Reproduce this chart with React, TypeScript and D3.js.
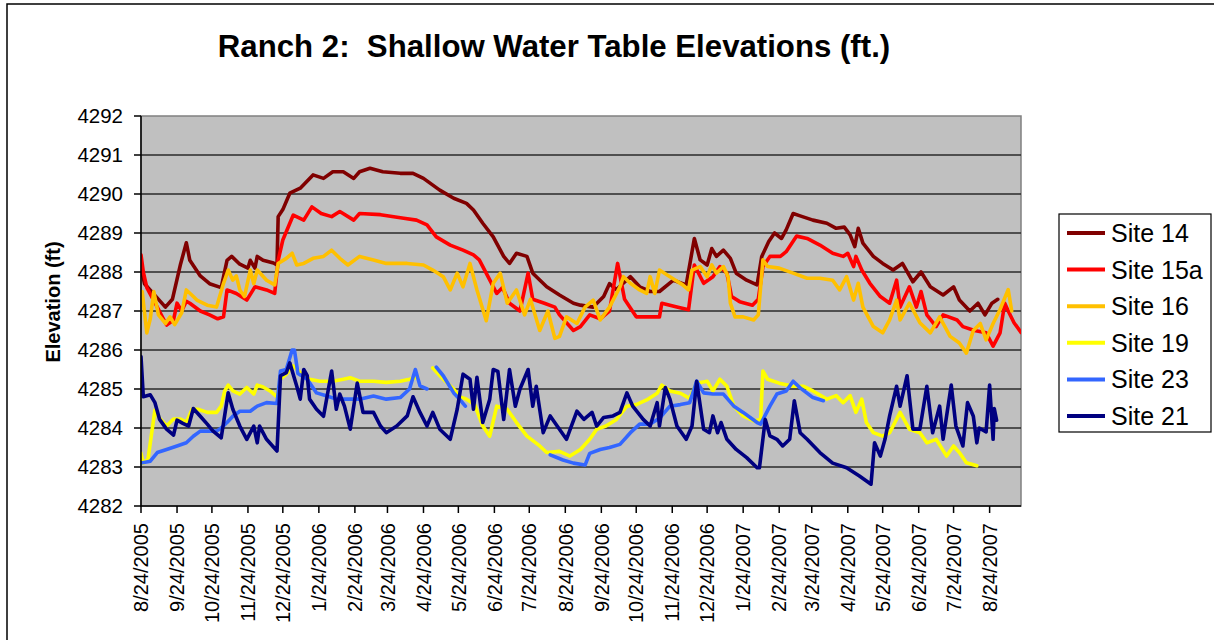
import React from 'react';
import * as d3 from 'd3';

type Pt = [number, number | null];

const W = 1214;
const H = 640;
const PL = 141, PR = 1021, PT = 116, PB = 506;
const FONT = 'Liberation Sans, Arial, Helvetica, sans-serif';

const START = new Date(2005, 7, 24);
const END_DAY = 757;

const titleText = 'Ranch 2:  Shallow Water Table Elevations (ft.)';
const yTitle = 'Elevation (ft)';
const yTicks = [4282, 4283, 4284, 4285, 4286, 4287, 4288, 4289, 4290, 4291, 4292];
const xTickMonths = d3.range(25); // monthly on the 24th from 8/24/2005

const seriesNames = ['Site 14', 'Site 15a', 'Site 16', 'Site 19', 'Site 23', 'Site 21'];
const seriesColors = ['#800000', '#FF0000', '#FFC000', '#FFFF00', '#3366FF', '#000080'];

// [days since 8/24/2005, elevation]
const site14: Pt[] = [[0,4288.1],[3,4287.7],[12,4287.4],[21,4287.1],[27,4287.3],[34,4288.2],[39,4288.75],[42,4288.3],[51,4287.9],[59,4287.7],[69,4287.6],[74,4288.3],[78,4288.4],[85,4288.2],[92,4288.1],[94,4288.3],[98,4288.1],[100,4288.4],[105,4288.3],[114,4288.23],[117,4288.18],[118,4289.42],[122,4289.6],[128,4290.02],[137,4290.15],[148,4290.49],[157,4290.4],[165,4290.57],[174,4290.57],[183,4290.4],[188,4290.57],[197,4290.66],[208,4290.57],[223,4290.53],[234,4290.53],[243,4290.4],[257,4290.1],[269,4289.89],[280,4289.76],[286,4289.59],[294,4289.25],[303,4288.9],[312,4288.4],[317,4288.22],[323,4288.48],[332,4288.4],[337,4287.97],[349,4287.62],[360,4287.41],[372,4287.2],[378,4287.15],[389,4287.1],[398,4287.37],[403,4287.7],[409,4287.55],[421,4287.88],[429,4287.62],[438,4287.5],[446,4287.5],[458,4287.79],[469,4287.67],[476,4288.86],[481,4288.31],[487,4288.18],[491,4288.6],[495,4288.4],[501,4288.56],[507,4288.35],[512,4287.97],[521,4287.79],[530,4287.67],[534,4288.4],[540,4288.78],[545,4289.0],[551,4288.86],[555,4289.08],[561,4289.5],[567,4289.44],[578,4289.33],[590,4289.25],[598,4289.12],[605,4289.15],[610,4288.95],[614,4288.65],[617,4289.12],[621,4288.74],[630,4288.4],[638,4288.22],[647,4288.05],[655,4288.22],[664,4287.75],[671,4288.0],[679,4287.62],[690,4287.41],[699,4287.62],[704,4287.28],[713,4287.0],[720,4287.2],[726,4286.9],[732,4287.2],[737,4287.3]];

const site15a: Pt[] = [[0,4288.44],[2,4288.0],[5,4287.6],[14,4287.1],[22,4286.64],[28,4286.77],[31,4287.2],[35,4287.0],[39,4287.25],[42,4287.2],[51,4287.0],[59,4286.9],[66,4286.8],[71,4286.85],[74,4287.54],[82,4287.45],[91,4287.28],[98,4287.62],[108,4287.54],[115,4287.45],[118,4288.3],[122,4288.82],[131,4289.46],[140,4289.33],[147,4289.67],[155,4289.5],[164,4289.42],[171,4289.55],[183,4289.33],[188,4289.5],[206,4289.47],[226,4289.38],[237,4289.33],[246,4289.21],[254,4288.9],[266,4288.69],[277,4288.56],[286,4288.44],[291,4288.31],[300,4287.8],[306,4287.45],[311,4287.6],[317,4287.2],[326,4287.0],[333,4287.97],[337,4287.3],[347,4287.2],[356,4287.1],[360,4286.9],[372,4286.5],[378,4286.6],[386,4286.9],[395,4286.8],[403,4287.0],[410,4288.22],[416,4287.3],[426,4286.85],[438,4286.85],[446,4286.85],[448,4287.2],[461,4287.1],[471,4287.03],[476,4288.18],[484,4287.71],[492,4287.88],[498,4288.14],[504,4287.97],[508,4287.37],[515,4287.24],[526,4287.15],[531,4287.3],[535,4288.14],[541,4288.4],[550,4288.4],[555,4288.52],[564,4288.92],[573,4288.86],[584,4288.69],[595,4288.48],[604,4288.4],[608,4288.48],[613,4288.14],[615,4288.4],[620,4288.05],[627,4287.71],[636,4287.37],[644,4287.2],[650,4287.79],[653,4287.1],[661,4287.62],[667,4287.1],[671,4287.5],[676,4286.9],[684,4286.6],[690,4286.9],[702,4286.77],[707,4286.6],[717,4286.5],[727,4286.44],[733,4286.1],[739,4286.44],[743,4287.2],[746,4287.0],[751,4286.7],[757,4286.45]];

const site16: Pt[] = [[1,4287.5],[5,4286.44],[8,4286.8],[11,4287.5],[15,4286.9],[21,4286.68],[25,4286.85],[29,4286.65],[35,4286.95],[39,4287.54],[45,4287.37],[48,4287.28],[57,4287.15],[65,4287.1],[71,4287.71],[75,4288.05],[79,4287.79],[82,4287.9],[85,4287.54],[89,4287.37],[94,4288.05],[97,4287.7],[100,4288.05],[108,4287.79],[115,4287.67],[118,4288.22],[125,4288.35],[130,4288.48],[134,4288.18],[140,4288.22],[148,4288.35],[157,4288.4],[164,4288.56],[171,4288.35],[178,4288.18],[188,4288.4],[200,4288.31],[211,4288.22],[229,4288.22],[243,4288.18],[251,4288.05],[260,4287.88],[266,4287.54],[272,4287.97],[277,4287.62],[283,4288.22],[289,4287.54],[297,4286.75],[303,4287.71],[309,4287.97],[315,4287.2],[323,4287.54],[330,4286.9],[335,4287.3],[343,4286.5],[350,4287.0],[356,4286.3],[360,4286.35],[366,4286.85],[375,4286.68],[382,4287.1],[389,4287.28],[395,4286.77],[403,4287.1],[412,4287.62],[415,4287.88],[421,4287.71],[429,4287.54],[435,4287.45],[438,4287.88],[442,4287.45],[446,4288.05],[455,4287.88],[466,4287.67],[471,4287.54],[474,4288.05],[481,4288.14],[487,4287.88],[491,4288.18],[495,4287.97],[501,4288.14],[505,4287.88],[507,4287.2],[511,4286.85],[518,4286.85],[527,4286.77],[531,4286.9],[535,4288.31],[539,4288.14],[549,4288.1],[561,4287.97],[573,4287.84],[584,4287.84],[595,4287.79],[601,4287.54],[607,4287.88],[613,4287.28],[617,4287.71],[621,4287.1],[630,4286.6],[638,4286.44],[644,4286.77],[650,4287.28],[653,4286.77],[661,4287.2],[670,4286.7],[679,4286.44],[687,4286.85],[696,4286.35],[704,4286.18],[710,4285.92],[716,4286.5],[722,4286.68],[727,4286.26],[733,4286.68],[739,4287.04],[746,4287.55],[749,4287.0]];

const site19: Pt[] = [[0,4283.35],[2,4283.1],[6,4283.2],[12,4284.46],[16,4284.25],[22,4284.05],[28,4284.23],[34,4284.23],[39,4284.15],[44,4284.48],[49,4284.48],[57,4284.4],[65,4284.4],[69,4284.56],[72,4284.95],[75,4285.1],[79,4284.95],[85,4284.87],[91,4285.04],[97,4284.87],[100,4285.1],[105,4285.05],[111,4284.95],[117,4284.8],[120,4285.25],[125,4285.38],[131,4285.59],[137,4285.42],[145,4285.25],[154,4285.2],[165,4285.2],[174,4285.25],[180,4285.29],[188,4285.2],[200,4285.2],[211,4285.17],[223,4285.2],[231,4285.25],[238,4285.3],[244,null],[251,4285.54],[260,4285.25],[269,4285.0],[274,4284.8],[280,4284.74],[287,4284.6],[294,4284.05],[300,4283.79],[306,4284.56],[315,4284.48],[323,4284.14],[332,4283.79],[343,4283.54],[349,4283.37],[360,4283.4],[369,4283.28],[378,4283.45],[386,4283.71],[392,4283.97],[400,4284.05],[409,4284.22],[418,4284.56],[426,4284.6],[435,4284.72],[444,4284.89],[448,4285.1],[455,4284.95],[464,4284.89],[472,4284.76],[478,4285.15],[487,4285.2],[492,4284.95],[498,4285.25],[504,4285.07],[510,4284.56],[518,4284.31],[527,4284.18],[533,4284.22],[535,4285.46],[539,4285.25],[549,4285.15],[561,4285.07],[570,4285.07],[578,4284.95],[590,4284.74],[598,4284.83],[604,4284.65],[610,4284.83],[615,4284.4],[620,4284.74],[624,4284.14],[630,4283.88],[638,4283.79],[644,4283.88],[653,4284.4],[661,4283.97],[670,4283.88],[676,4283.62],[684,4283.71],[693,4283.28],[699,4283.54],[704,4283.37],[710,4283.11],[719,4283.03]];

const site23: Pt[] = [[0,4283.1],[8,4283.15],[14,4283.37],[22,4283.45],[31,4283.54],[39,4283.62],[45,4283.79],[51,4283.92],[65,4283.92],[69,4284.0],[74,4284.14],[79,4284.3],[85,4284.43],[94,4284.43],[100,4284.56],[108,4284.65],[117,4284.63],[120,4285.46],[125,4285.5],[130,4286.0],[132,4286.0],[135,4285.4],[143,4285.25],[151,4284.9],[160,4284.82],[168,4284.74],[188,4284.74],[200,4284.82],[211,4284.74],[223,4284.78],[231,4285.0],[236,4285.5],[240,4285.08],[246,4285.0],[250,null],[254,4285.56],[260,4285.34],[269,4284.9],[274,4284.74],[279,4284.56],[300,null],[352,4283.31],[363,4283.18],[372,4283.1],[382,4283.05],[386,4283.35],[395,4283.45],[403,4283.5],[412,4283.58],[421,4283.88],[429,4284.1],[438,4284.1],[446,4284.25],[455,4284.56],[464,4284.6],[472,4284.65],[478,4285.2],[484,4284.9],[492,4284.87],[501,4284.87],[510,4284.56],[518,4284.4],[530,4284.14],[533,4284.1],[541,4284.56],[547,4284.87],[555,4284.95],[561,4285.2],[567,4285.03],[578,4284.78],[587,4284.7]];

const site21: Pt[] = [[0,4285.83],[2,4284.8],[8,4284.85],[12,4284.65],[16,4284.22],[22,4283.97],[28,4283.82],[31,4284.2],[36,4284.12],[41,4284.05],[45,4284.5],[51,4284.3],[57,4284.1],[62,4283.92],[69,4283.75],[75,4284.9],[79,4284.48],[85,4284.05],[91,4283.71],[97,4284.05],[100,4283.62],[102,4284.05],[108,4283.71],[117,4283.41],[120,4285.34],[125,4285.42],[128,4285.67],[134,4285.07],[137,4284.74],[140,4285.5],[143,4285.34],[145,4284.74],[151,4284.48],[157,4284.3],[164,4285.46],[168,4284.48],[171,4284.87],[175,4284.56],[180,4283.97],[186,4285.15],[191,4284.4],[200,4284.4],[206,4284.05],[211,4283.88],[220,4284.05],[229,4284.31],[234,4284.8],[240,4284.4],[246,4284.05],[251,4284.4],[257,4283.97],[266,4283.71],[272,4284.48],[277,4285.38],[283,4285.25],[286,4284.48],[289,4285.3],[294,4284.14],[300,4284.74],[303,4285.5],[307,4285.45],[312,4284.22],[317,4285.5],[322,4284.56],[326,4285.0],[333,4285.5],[337,4284.56],[340,4285.07],[346,4283.88],[352,4284.31],[358,4284.05],[366,4283.71],[375,4284.43],[381,4284.22],[388,4284.4],[392,4284.05],[398,4284.27],[406,4284.31],[412,4284.4],[418,4284.9],[423,4284.56],[432,4284.22],[438,4284.05],[444,4284.65],[446,4284.05],[451,4285.04],[455,4284.74],[461,4284.05],[469,4283.71],[474,4284.05],[478,4285.2],[484,4283.97],[489,4283.88],[492,4284.31],[496,4283.88],[499,4284.14],[504,4283.71],[512,4283.45],[521,4283.24],[530,4282.98],[532,4282.98],[537,4284.22],[541,4283.8],[547,4283.71],[552,4283.54],[558,4283.71],[562,4284.7],[567,4283.88],[573,4283.71],[584,4283.37],[595,4283.1],[607,4282.98],[618,4282.77],[628,4282.56],[631,4283.62],[636,4283.28],[640,4283.71],[644,4284.31],[650,4285.07],[653,4284.56],[659,4285.34],[664,4283.97],[670,4283.97],[676,4285.07],[681,4283.88],[687,4284.56],[690,4283.71],[697,4285.1],[701,4284.05],[707,4283.54],[711,4284.65],[716,4284.3],[719,4283.62],[721,4284.0],[727,4283.9],[730,4285.1],[733,4283.71],[734,4284.5],[736,4284.2]];

const seriesData: Pt[][] = [site14, site15a, site16, site19, site23, site21];

export default function App() {
  const x = d3
    .scaleTime()
    .domain([START, d3.timeDay.offset(START, END_DAY)])
    .range([PL, PR]);
  const y = d3.scaleLinear().domain([4282, 4292]).range([PB, PT]);

  const line = d3
    .line<Pt>()
    .defined((d) => d[1] !== null)
    .x((d) => x(d3.timeDay.offset(START, d[0])))
    .y((d) => y(d[1] as number))
    .curve(d3.curveLinear);

  const xTicks = xTickMonths.map((i) => new Date(2005, 7 + i, 24));
  const fmt = (d: Date) => `${d.getMonth() + 1}/${d.getDate()}/${d.getFullYear()}`;

  const legX = 1059, legY = 214, legW = 152, legH = 218;
  const rowY = (i: number) => 233 + i * 36.6;

  return (
    <svg
      width={W}
      height={H}
      viewBox={`0 0 ${W} ${H}`}
      style={{ position: 'absolute', left: 0, top: 0, background: '#fff' }}
      fontFamily={FONT}
    >
      <defs>
        <clipPath id="plotClip">
          <rect x={PL} y={PT} width={PR - PL} height={PB - PT} />
        </clipPath>
      </defs>
      {/* outer chart border */}
      <rect x={7} y={4} width={W + 20} height={H + 20} fill="#fff" stroke="#000" strokeWidth={1.5} />

      {/* title */}
      <text
        x={554}
        y={57}
        textAnchor="middle"
        fontSize={31.2}
        fontWeight="bold"
        fill="#000"
        style={{ whiteSpace: 'pre' }}
        xmlSpace="preserve"
      >
        {titleText}
      </text>

      {/* plot area */}
      <rect x={PL} y={PT} width={PR - PL} height={PB - PT} fill="#C0C0C0" stroke="#808080" strokeWidth={1.5} />
      {yTicks.slice(1, -1).map((t) => (
        <line key={t} x1={PL} x2={PR} y1={y(t)} y2={y(t)} stroke="#2a2a2a" strokeWidth={1.6} />
      ))}

      {/* series */}
      <g clipPath="url(#plotClip)">
        {seriesData.map((s, i) => (
          <path
            key={seriesNames[i]}
            d={line(s) || ''}
            fill="none"
            stroke={seriesColors[i]}
            strokeWidth={3.6}
            strokeLinejoin="round"
            strokeLinecap="round"
          />
        ))}
      </g>

      {/* axes */}
      <line x1={PL} x2={PL} y1={PT} y2={PB} stroke="#000" strokeWidth={1.5} />
      <line x1={PL} x2={PR} y1={PB} y2={PB} stroke="#000" strokeWidth={1.5} />
      {yTicks.map((t) => (
        <g key={t}>
          <line x1={PL - 7} x2={PL} y1={y(t)} y2={y(t)} stroke="#000" strokeWidth={1.5} />
          <text x={123} y={y(t)} dy="0.36em" textAnchor="end" fontSize={20.5} fill="#000">
            {t}
          </text>
        </g>
      ))}
      {xTicks.map((d, i) => (
        <g key={i}>
          <line x1={x(d)} x2={x(d)} y1={PB} y2={PB + 7} stroke="#000" strokeWidth={1.5} />
          <text
            transform={`translate(${x(d)},523) rotate(-90)`}
            dy="0.36em"
            textAnchor="end"
            fontSize={20}
            fill="#000"
          >
            {fmt(d)}
          </text>
        </g>
      ))}
      <text
        transform="translate(60,302) rotate(-90)"
        textAnchor="middle"
        fontSize={20}
        fontWeight="bold"
        fill="#000"
      >
        {yTitle}
      </text>

      {/* legend */}
      <rect x={legX} y={legY} width={legW} height={legH} fill="#fff" stroke="#000" strokeWidth={1.2} />
      {seriesNames.map((n, i) => (
        <g key={n}>
          <line x1={1067} x2={1105} y1={rowY(i)} y2={rowY(i)} stroke={seriesColors[i]} strokeWidth={4} />
          <text x={1111} y={rowY(i)} dy="0.36em" fontSize={25} fill="#000">
            {n}
          </text>
        </g>
      ))}
    </svg>
  );
}
